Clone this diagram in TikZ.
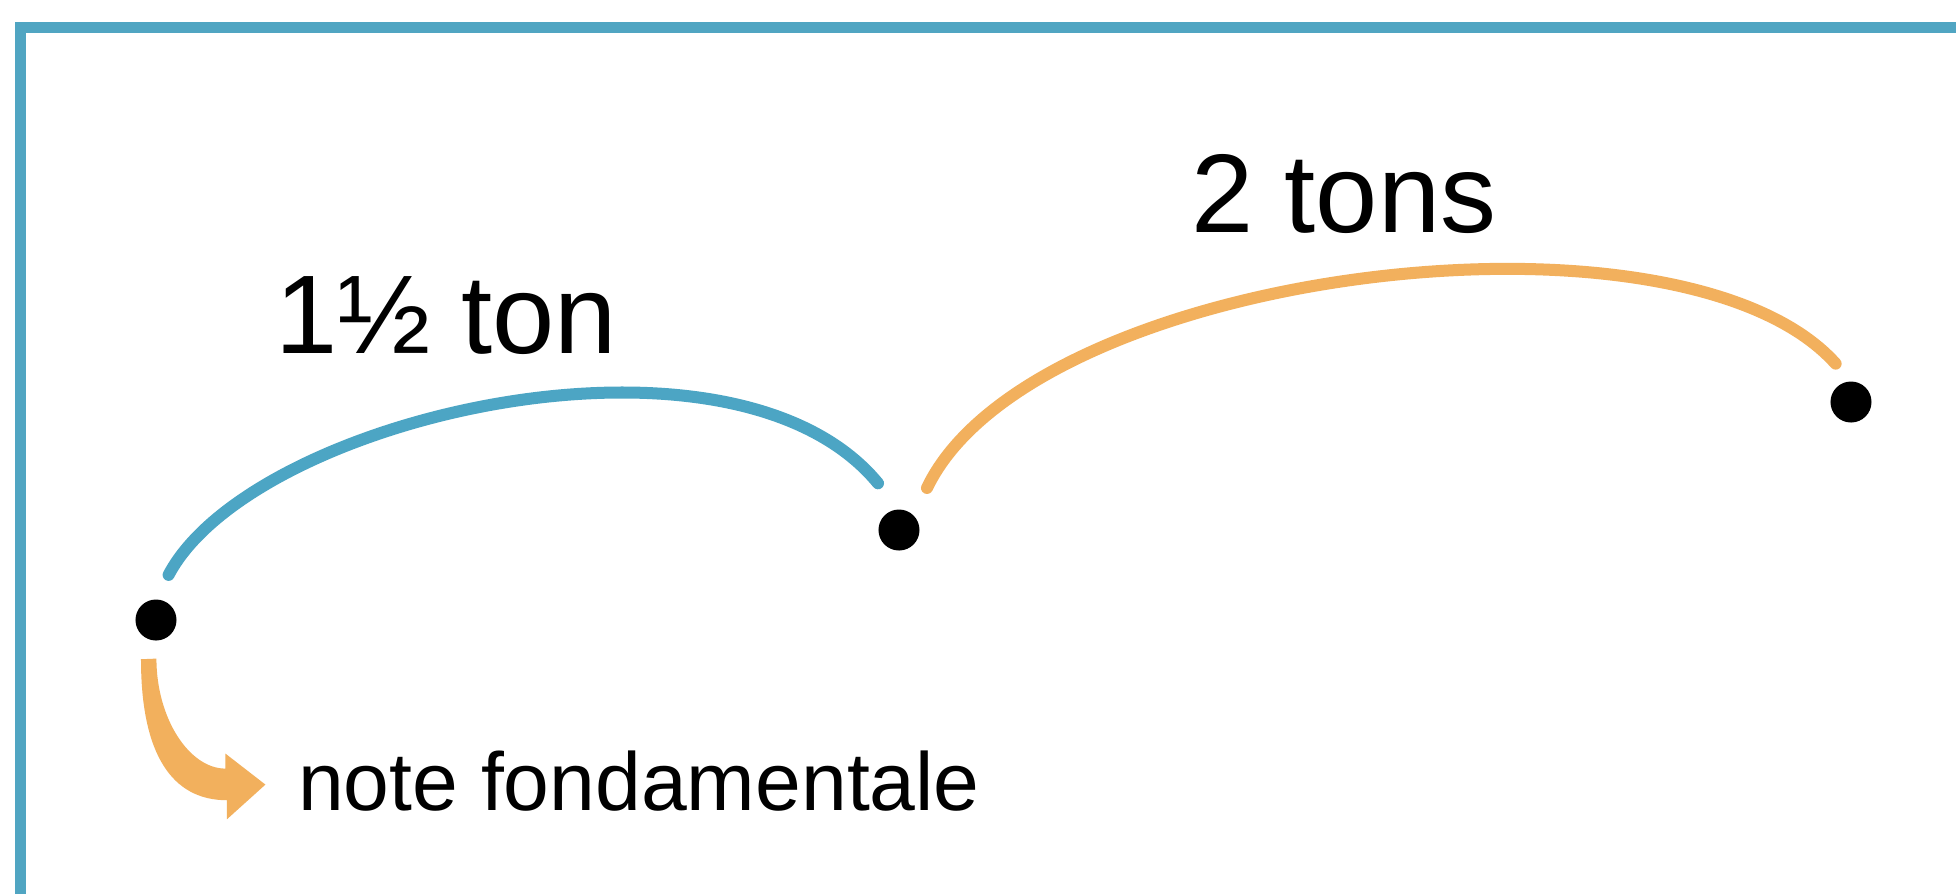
\documentclass[tikz,border=0pt]{standalone}
\usepackage{fontspec}
\setmainfont{Liberation Sans}
\usepackage{tikz}
\usetikzlibrary{arrows.meta}
\definecolor{framecol}{RGB}{80,165,194}
\definecolor{arcblue}{RGB}{76,165,196}
\definecolor{arcorange}{RGB}{242,176,93}
\tikzset{
  frame/.style={draw=framecol,line width=0.11cm},
  dot/.style={circle,fill=black,minimum size=0.41cm,inner sep=0pt},
  biglabel/.style={anchor=base,inner sep=0pt,font=\fontsize{31.8}{36}\selectfont},
  smalllabel/.style={anchor=base,inner sep=0pt,font=\fontsize{23.4}{28}\selectfont},
  bluearc/.style={draw=arcblue,line width=0.12cm,line cap=round},
  orangearc/.style={draw=arcorange,line width=0.12cm,line cap=round},
  fatarrow/.style={fill=arcorange}
}
\begin{document}
\begin{tikzpicture}[x=0.01cm,y=-0.01cm]
\clip (0,0) rectangle (1956,893);
\fill[white] (0,0) rectangle (1956,893);
\draw[frame] (20.5,1000) |- (2100,27.5);
% notes
\node[dot] (n1) at (156,620) {};
\node[dot] (n2) at (899,530) {};
\node[dot] (n3) at (1851,402) {};
% intervals
\node[biglabel] (lab1) at (446,353) {1½ ton};
\node[biglabel] (lab2) at (1344,232) {2 tons};
\node[smalllabel] (fond) at (639,810) {note fondamentale};
\draw[bluearc,shorten <=0.27cm,shorten >=0.33cm] (n1.north) .. controls +(96,-182) and +(-167,-203) .. (n2.north);
\draw[orangearc,shorten <=0.30cm,shorten >=0.23cm] (n2.north east) .. controls +(118,-246) and +(-171,-191) .. (n3.north);
% tapered arrow to the label
\fill[fatarrow] ([xshift=-0.15cm,yshift=-0.18cm]n1.south)
  .. controls +(0,95) and +(-55,0) .. ++(86,141)
  -- ++(0,19) -- ([xshift=-0.32cm,yshift=-0.04cm]fond.west)
  -- ++(-40,-31) -- ++(0,15)
  .. controls +(-36,0) and +(0,60) .. ++(-69,-110) -- cycle;
\end{tikzpicture}
\end{document}
